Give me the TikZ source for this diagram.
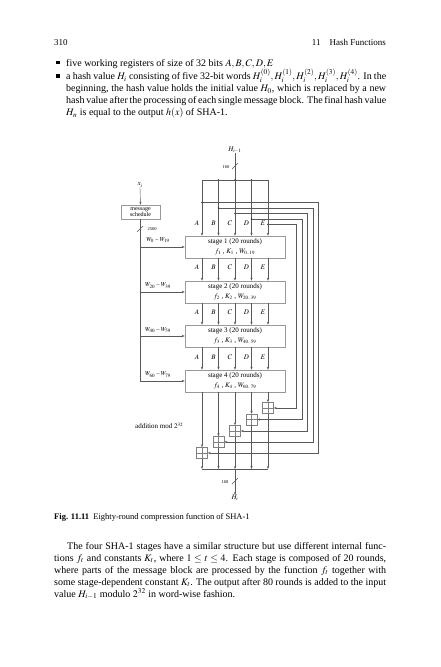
\documentclass[tikz,border=0pt]{standalone}
\usepackage{mathptmx}
\usepackage{fontspec}
\setmainfont{Liberation Serif}
\usetikzlibrary{arrows.meta}
\newcommand\jl[5]{\node[anchor=base west,inner sep=0pt,font=\fontsize{10}{12}\selectfont] (#1) at (#2,#3) {\makebox[#4pt][s]{#5}};}
\newcommand\rl[4]{\node[anchor=base west,inner sep=0pt,font=\fontsize{10}{12}\selectfont] (#1) at (#2,#3) {#4};}
\begin{document}
\begin{tikzpicture}[x=1pt,y=-1pt,
  ln/.style={draw=black!65,line width=0.4pt},
  arr/.style={ln,-{Stealth[length=3pt,width=2.2pt]}},
  stagebox/.style={draw=black!40,line width=0.6pt,minimum width=100pt,minimum height=22pt,inner sep=0pt,align=center,font=\fontsize{7}{10}\selectfont},
  adder/.style={draw=black!50,line width=0.5pt,minimum size=11pt,inner sep=0pt},
  dot/.style={circle,fill=black!80,inner sep=0pt,minimum size=1.6pt},
  lbl/.style={font=\fontsize{7}{8}\selectfont,inner sep=0pt},
  tiny/.style={font=\fontsize{4.5}{5}\selectfont,inner sep=0pt},
  wl/.style={font=\fontsize{6}{7}\selectfont,inner sep=0pt},
  bul/.style={fill=black,minimum size=3.6pt,inner sep=0pt}]
\useasboundingbox (0,0) rectangle (440,667);
\fill[white] (0,0) rectangle (440,667);

% header
\node[anchor=base west,inner sep=0pt,font=\fontsize{9}{11}\selectfont] (pg) at (54,45) {310};
\node[anchor=base east,inner sep=0pt,font=\fontsize{9}{11}\selectfont] (rh) at (386,45) {11\quad Hash Functions};

% bullets
\node[bul] (b1) at (57.8,62.6) {};
\node[bul] (b2) at (57.8,76.2) {};
\rl{t1}{66}{66}{five working registers of size of 32 bits $A,B,C,D,E$}
\jl{t2}{66}{79.5}{320}{a hash value $H_i$ consisting of five 32-bit words $H_i^{(0)},H_i^{(1)},H_i^{(2)},H_i^{(3)},H_i^{(4)}$. In the}
\jl{t3}{66}{91.5}{320}{beginning, the hash value holds the initial value $H_0$, which is replaced by a new}
\jl{t4}{66}{103.5}{320}{hash value after the processing of each single message block. The final hash value}
\rl{t5}{66}{115.5}{$H_n$ is equal to the output $h(x)$ of SHA-1.}

% ---------- diagram ----------
\coordinate (cA) at (202,0);
\coordinate (cB) at (218.5,0);
\coordinate (cC) at (235,0);
\coordinate (cD) at (251.5,0);
\coordinate (cE) at (268,0);

\node[stagebox] (s1) at (235,247) {stage 1 (20 rounds)\\ $f_1$ , $K_1$ , $W_{0..19}$};
\node[stagebox] (s2) at (235,292) {stage 2 (20 rounds)\\ $f_2$ , $K_2$ , $W_{20..39}$};
\node[stagebox] (s3) at (235,336) {stage 3 (20 rounds)\\ $f_3$ , $K_3$ , $W_{40..59}$};
\node[stagebox] (s4) at (235,381) {stage 4 (20 rounds)\\ $f_4$ , $K_4$ , $W_{60..79}$};

% input H_{i-1}
\node[lbl] (hin) at (235,150) {$H_{i-1}$};
\coordinate (bA) at (202,180);
\coordinate (bB) at (218.5,180);
\coordinate (bC) at (235,180);
\coordinate (bD) at (251.5,180);
\coordinate (bE) at (268,180);
\draw[ln] (hin.south) -- (bC);
\draw[ln] (232,169) -- (238,163);
\node[tiny] (n160a) at (226,167) {160};
\draw[ln] (bA) -- (bE);
\node[dot] (dB) at (bB) {};
\node[dot] (dC) at (bC) {};
\node[dot] (dD) at (bD) {};
\foreach \c in {A,B,C,D,E}{\draw[arr] (b\c) -- (s1.north -| c\c);}

% labels A..E
\foreach \y/\k in {223/1,267/2,312/3,357/4}{
  \node[lbl] (lA\k) at (197,\y) {$A$};
  \node[lbl] (lB\k) at (213.5,\y) {$B$};
  \node[lbl] (lC\k) at (230,\y) {$C$};
  \node[lbl] (lD\k) at (246.5,\y) {$D$};
  \node[lbl] (lE\k) at (263,\y) {$E$};
}

% between stages
\foreach \c in {A,B,C,D,E}{
  \draw[arr] (s1.south -| c\c) -- (s2.north -| c\c);
  \draw[arr] (s2.south -| c\c) -- (s3.north -| c\c);
  \draw[arr] (s3.south -| c\c) -- (s4.north -| c\c);
}

% adders
\node[adder] (aE) at (268,408) {};
\node[adder] (aD) at (251.5,419.5) {};
\node[adder] (aC) at (235,431) {};
\node[adder] (aB) at (218.5,442) {};
\node[adder] (aA) at (202,453) {};
\foreach \c in {A,B,C,D,E}{
  \draw[draw=black!50,line width=0.4pt] (a\c.north) -- (a\c.south) (a\c.west) -- (a\c.east);
}

% feed-forward taps
\node[dot] (tA) at (202,202.5) {};
\node[dot] (tB) at (218.5,208) {};
\node[dot] (tC) at (235,213.5) {};
\node[dot] (tD) at (251.5,219) {};
\node[dot] (tE) at (268,224.5) {};
\coordinate (rA) at (318,202.5);
\coordinate (rB) at (313,208);
\coordinate (rC) at (307.5,213.5);
\coordinate (rD) at (302,219);
\coordinate (rE) at (296.5,224.5);
\foreach \c in {A,B,C,D,E}{
  \draw[arr] (t\c.center) -- (r\c) |- (a\c.east);
}

% bottom bus
\coordinate (oA) at (202,469);
\coordinate (oB) at (218.5,469);
\coordinate (oC) at (235,469);
\coordinate (oD) at (251.5,469);
\coordinate (oE) at (268,469);
\foreach \c in {A,B,C,D,E}{
  \draw[arr] (s4.south -| c\c) -- (a\c.north);
  \draw[arr] (a\c.south) -- (o\c);
}
\draw[ln] (oA) -- (oE);
\node[lbl] (hout) at (235,498) {$H_i$};
\draw[arr] (oC) -- (hout.north);
\draw[ln] (232,484) -- (238,478);
\node[tiny] (n160b) at (225,482) {160};

% message schedule
\node[lbl] (xi) at (140,185) {$x_i$};
\node[draw=black!40,line width=0.6pt,minimum width=39pt,minimum height=14pt,inner sep=0pt,align=center,font=\fontsize{6}{6}\selectfont] (ms) at (140.5,212) {message\\schedule};
\draw[arr] (xi.south) -- (ms.north);
\coordinate (wend) at (140,381);
\draw[ln] (ms.south -| wend) -- (wend);
\draw[ln] (137,232) -- (143,226);
\node[tiny] (n2560) at (152,229) {2560};
\draw[arr] (wend |- s1.west) -- (s1.west);
\draw[arr] (wend |- s2.west) -- (s2.west);
\draw[arr] (wend |- s3.west) -- (s3.west);
\draw[arr] (wend) -- (s4.west);
\node[wl] (w1) at (158,240) {$W_0$ -- $W_{19}$};
\node[wl] (w2) at (158,285.5) {$W_{20}$ -- $W_{39}$};
\node[wl] (w3) at (158,330) {$W_{40}$ -- $W_{59}$};
\node[wl] (w4) at (158,374.5) {$W_{60}$ -- $W_{79}$};
\node[lbl,anchor=west] (addl) at (135,426) {addition mod $2^{32}$};

% caption
\node[anchor=base west,inner sep=0pt,font=\fontsize{8.5}{10}\selectfont] (cap) at (54,519) {\textbf{Fig. 11.11}\enspace Eighty-round compression function of SHA-1};

% paragraph
\jl{p1}{67}{549}{319}{The four SHA-1 stages have a similar structure but use different internal func-}
\jl{p2}{54}{561}{332}{tions $f_t$ and constants $K_t$, where $1 \le t \le 4$. Each stage is composed of 20 rounds,}
\jl{p3}{54}{573}{332}{where parts of the message block are processed by the function $f_t$ together with}
\jl{p4}{54}{585}{332}{some stage-dependent constant $K_t$. The output after 80 rounds is added to the input}
\rl{p5}{54}{597}{value $H_{i-1}$ modulo $2^{32}$ in word-wise fashion.}
\end{tikzpicture}
\end{document}
